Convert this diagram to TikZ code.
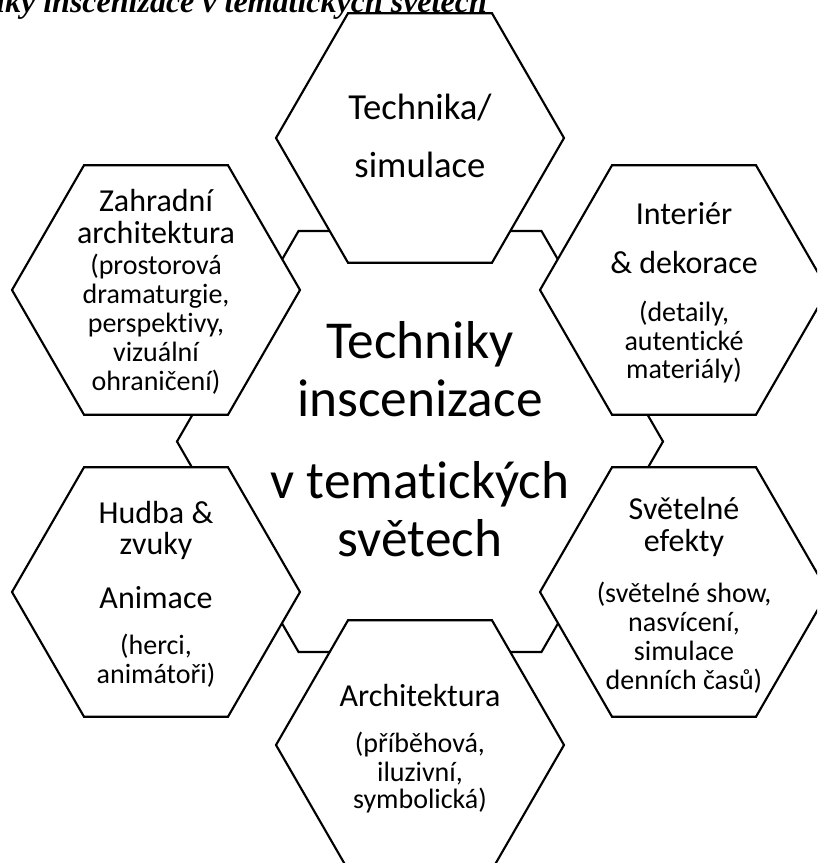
\documentclass[tikz,border=0pt]{standalone}
\usepackage{fontspec}
\setmainfont{Carlito}[Ligatures=NoCommon]
\newfontfamily\titlefont{Liberation Serif}
\usetikzlibrary{shapes.geometric}
\newcommand\fsz[1]{\fontsize{#1}{#1}\selectfont}
\begin{document}
\begin{tikzpicture}[x=0.75pt,y=-0.75pt,
  hexa/.style={regular polygon, regular polygon sides=6, draw=black, line width=1.6pt, fill=white, inner sep=0pt, minimum size=216pt},
  lbl/.style={anchor=base, inner sep=0pt, text=black},
  big/.style={lbl, font=\fsz{40}},
  head/.style={lbl, font=\fsz{24}},
  small/.style={lbl, font=\fsz{21}}]
\useasboundingbox (0,0) rectangle (817,863);
\clip (0,0) rectangle (817,863);
% title (cut off at top)
\node[lbl, anchor=base east, font=\titlefont\bfseries\itshape\fsz{24}] (title) at (487,13) {Techniky inscenizace v tematických světech};
% central hexagon
\node[hexa, minimum size=364.5pt] (core) at (420,441.5) {};
% outer hexagons
\node[hexa] (tech) at (420,138) {};
\node[hexa] (inter) at (684,290) {};
\node[hexa] (light) at (684,592) {};
\node[hexa] (arch) at (420,745) {};
\node[hexa] (music) at (156,592) {};
\node[hexa] (garden) at (156,290) {};
% central text
\node[big] (c1) at (420,358) {Techniky};
\node[big] (c2) at (420,416) {inscenizace};
\node[big] (c3) at (420,498) {v tematických};
\node[big] (c4) at (420,556) {světech};
% Technika
\node[lbl, font=\fsz{27.5}] (t1) at (420,120) {Technika/};
\node[lbl, font=\fsz{27.5}] (t2) at (420,177) {simulace};
% Interier
\node[head] (i1) at (684,224) {Interiér};
\node[head] (i2) at (684,273) {\& dekorace};
\node[small] (i3) at (684,321) {(detaily,};
\node[small] (i4) at (684,350) {autentické};
\node[small] (i5) at (684,378) {materiály)};
% Svetelne efekty
\node[head] (l1) at (684,519) {Světelné};
\node[head] (l2) at (684,551) {efekty};
\node[small] (l3) at (684,602) {(světelné show,};
\node[small] (l4) at (684,631) {nasvícení,};
\node[small] (l5) at (684,660) {simulace};
\node[small] (l6) at (684,689) {denních časů)};
% Architektura
\node[head] (a1) at (420,706) {Architektura};
\node[small] (a2) at (420,752) {(příběhová,};
\node[small] (a3) at (420,781) {iluzivní,};
\node[small] (a4) at (420,808) {symbolická)};
% Hudba
\node[head] (h1) at (156,523) {Hudba \&};
\node[head] (h2) at (156,554) {zvuky};
\node[head] (h3) at (156,608) {Animace};
\node[small] (h4) at (156,654) {(herci,};
\node[small] (h5) at (156,683) {animátoři)};
% Zahradni architektura
\node[head] (z1) at (156,211) {Zahradní};
\node[head] (z2) at (156,243) {architektura};
\node[small] (z3) at (156,274) {(prostorová};
\node[small] (z4) at (156,303) {dramaturgie,};
\node[small] (z5) at (156,332) {perspektivy,};
\node[small] (z6) at (156,361) {vizuální};
\node[small] (z7) at (156,390) {ohraničení)};
\end{tikzpicture}
\end{document}
